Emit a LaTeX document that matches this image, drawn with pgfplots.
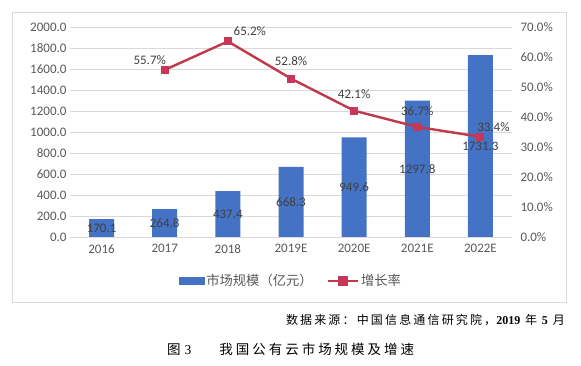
\documentclass[border=0pt]{standalone}
\usepackage{pgfplots}
\pgfplotsset{compat=1.18}
\usepackage{fontspec}
\setmainfont{Carlito}
\newfontfamily\cjk{Noto Sans CJK SC}
\newfontfamily\cjkls[LetterSpace=18]{Noto Sans CJK SC}
\newfontfamily\cjkcap[LetterSpace=22]{Noto Sans CJK SC}
\newfontfamily\serifb{Liberation Serif}
\definecolor{barblue}{HTML}{4472C4}
\definecolor{linered}{HTML}{C0394B}
\definecolor{markred}{HTML}{C8365A}
\definecolor{ticktext}{HTML}{595959}
\definecolor{labeltext}{HTML}{404040}
\definecolor{gridgray}{HTML}{D9D9D9}
\begin{document}
\begin{tikzpicture}
\draw[gridgray, line width=0.8pt] (12pt,64pt) rectangle (566pt,354pt);
\begin{axis}[
  name=ax1,
  at={(70pt,129pt)}, anchor=south west,
  scale only axis, width=442pt, height=210pt,
  xmin=-0.5, xmax=6.5, ymin=0, ymax=2000,
  xtick={0,...,6},
  xticklabels={2016,2017,2018,2019E,2020E,2021E,2022E},
  ytick={0,200,...,2000},
  yticklabel={\pgfmathprintnumber[fixed,fixed zerofill,precision=1,1000 sep={}]{\tick}},
  /pgf/number format/assume math mode=true,
  axis line style={draw=none},
  major tick length=0pt,
  ymajorgrids, grid style={gridgray, line width=0.7pt},
  tick label style={font=\fontsize{13}{15}\selectfont, text=ticktext},
  xticklabel style={yshift=-4pt},
  ybar, bar width=25pt,
  visualization depends on={y \as \rawy},
  nodes near coords={\pgfmathprintnumber[fixed,fixed zerofill,precision=1,1000 sep={}]{\pgfplotspointmeta}},
  nodes near coords style={anchor=center, yshift={-0.0525*\rawy}, font=\fontsize{13}{15}\selectfont, text=labeltext},
]
\addplot[fill=barblue, draw=none] coordinates {(0,170.1)(1,264.8)(2,437.4)(3,668.3)(4,949.6)(5,1297.8)(6,1731.3)};
\end{axis}
\begin{axis}[
  at={(ax1.south west)}, anchor=south west,
  scale only axis, width=442pt, height=210pt,
  xmin=-0.5, xmax=6.5, ymin=0, ymax=70,
  xtick=\empty,
  ytick pos=right, yticklabel pos=right,
  ytick={0,10,...,70},
  yticklabel={\pgfmathprintnumber[fixed,fixed zerofill,precision=1]{\tick}\%},
  /pgf/number format/assume math mode=true,
  axis line style={draw=none},
  major tick length=0pt,
  tick label style={font=\fontsize{13}{15}\selectfont, text=ticktext},
  yticklabel style={xshift=5pt},
  legend style={at={(0.5,-0.2095)}, anchor=center, draw=none, fill=none,
    legend columns=2, font=\cjk\fontsize{13.3}{15}\selectfont, text=ticktext,
    /tikz/every even column/.append style={column sep=12pt}},
]
\addlegendimage{legend image code/.code={\fill[barblue] (0pt,-3.5pt) rectangle (25pt,3.5pt);}}
\addlegendentry{市场规模（亿元）}
\addplot[linered, line width=2.4pt, mark=square*, mark size=3.5pt,
  mark options={fill=markred, draw=markred, line width=0pt},
  legend image code/.code={\draw[linered,line width=2.4pt] (0pt,0pt) -- (30pt,0pt);
    \fill[markred] (11.5pt,-3.5pt) rectangle (18.5pt,3.5pt);},
  visualization depends on={\thisrow{dx} \as \dx},
  visualization depends on={\thisrow{dy} \as \dy},
  nodes near coords={\pgfmathprintnumber[fixed,fixed zerofill,precision=1]{\pgfplotspointmeta}\%},
  nodes near coords style={anchor=center, xshift=\dx, yshift=\dy, font=\fontsize{13}{15}\selectfont, text=labeltext},
] table {
x y dx dy
1 55.7 -15 10
2 65.2 22 10
3 52.8 0 17
4 42.1 0 17
5 36.7 0 16
6 33.4 13 10
};
\addlegendentry{增长率}
\end{axis}
\node[anchor=east, inner sep=0pt] at (565pt,46pt) {\cjkls\fontsize{12}{14}\selectfont 数据来源：中国信息通信研究院，{\serifb\bfseries 2019} 年 {\serifb\bfseries 5} 月};
\node[anchor=west, inner sep=0pt] at (167pt,17pt) {\cjkcap\fontsize{13.5}{15}\selectfont 图\hspace{4pt}{\serifb 3}\hspace{28pt}我国公有云市场规模及增速};
\pgfresetboundingbox
\useasboundingbox (0pt,0pt) rectangle (581pt,366pt);
\end{tikzpicture}
\end{document}
